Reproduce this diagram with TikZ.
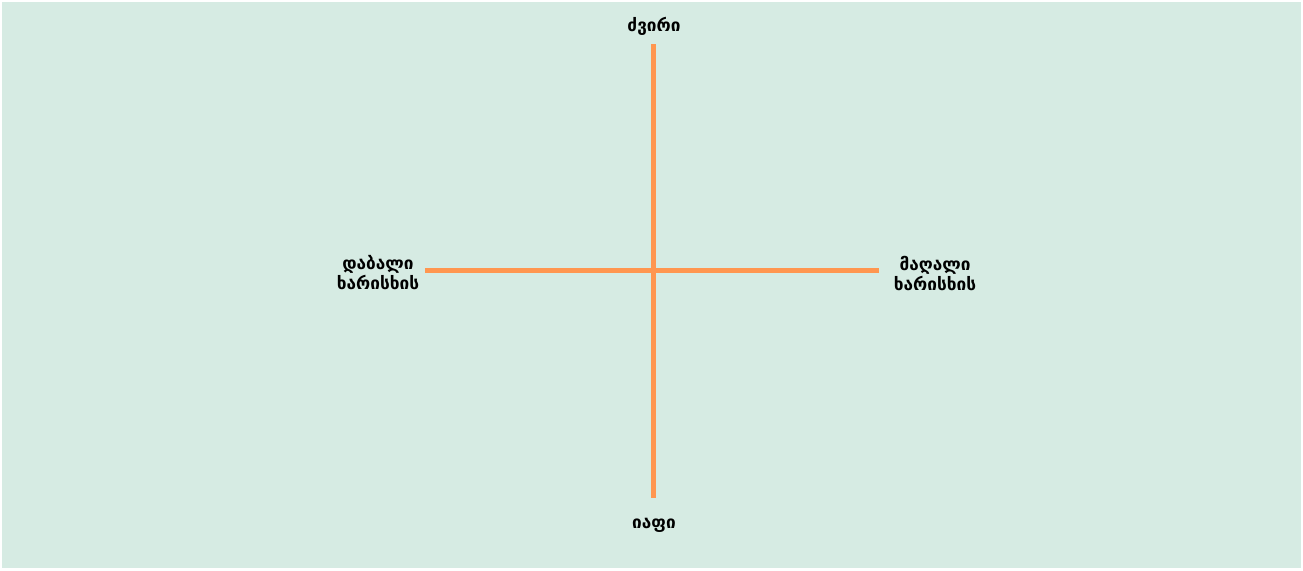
\documentclass[tikz,border=0pt]{standalone}
\usepackage{fontspec}
\newfontfamily\geofont[Script=Georgian]{DejaVu Sans}
\definecolor{bgmint}{HTML}{D6EBE3}
\definecolor{axisorange}{HTML}{FF9650}
\tikzset{
  axisline/.style={draw=axisorange, line width=5pt},
  lbl/.style={font=\geofont\bfseries\fontsize{17.2}{20}\selectfont, text=black, align=center, inner sep=0pt}
}
\begin{document}
\begin{tikzpicture}[x=1pt,y=-1pt]
\useasboundingbox (0,0) rectangle (1303,570);
\fill[white] (0,0) rectangle (1303,570);
\fill[bgmint] (2,2) rectangle (1301,568);
\coordinate (top) at (653,44);
\coordinate (bot) at (653,498);
\coordinate (lft) at (425,270);
\coordinate (rgt) at (879,270);
\draw[axisline] (top) -- (bot);
\draw[axisline] (lft) -- (rgt);
\node[lbl] (exp) at (654,26) {ძვირი};
\node[lbl] (chp) at (654,525) {იაფი};
\node[lbl] (low) at (378,273) {დაბალი\\ხარისხის};
\node[lbl] (high) at (935,273) {მაღალი\\ხარისხის};
\end{tikzpicture}
\end{document}
